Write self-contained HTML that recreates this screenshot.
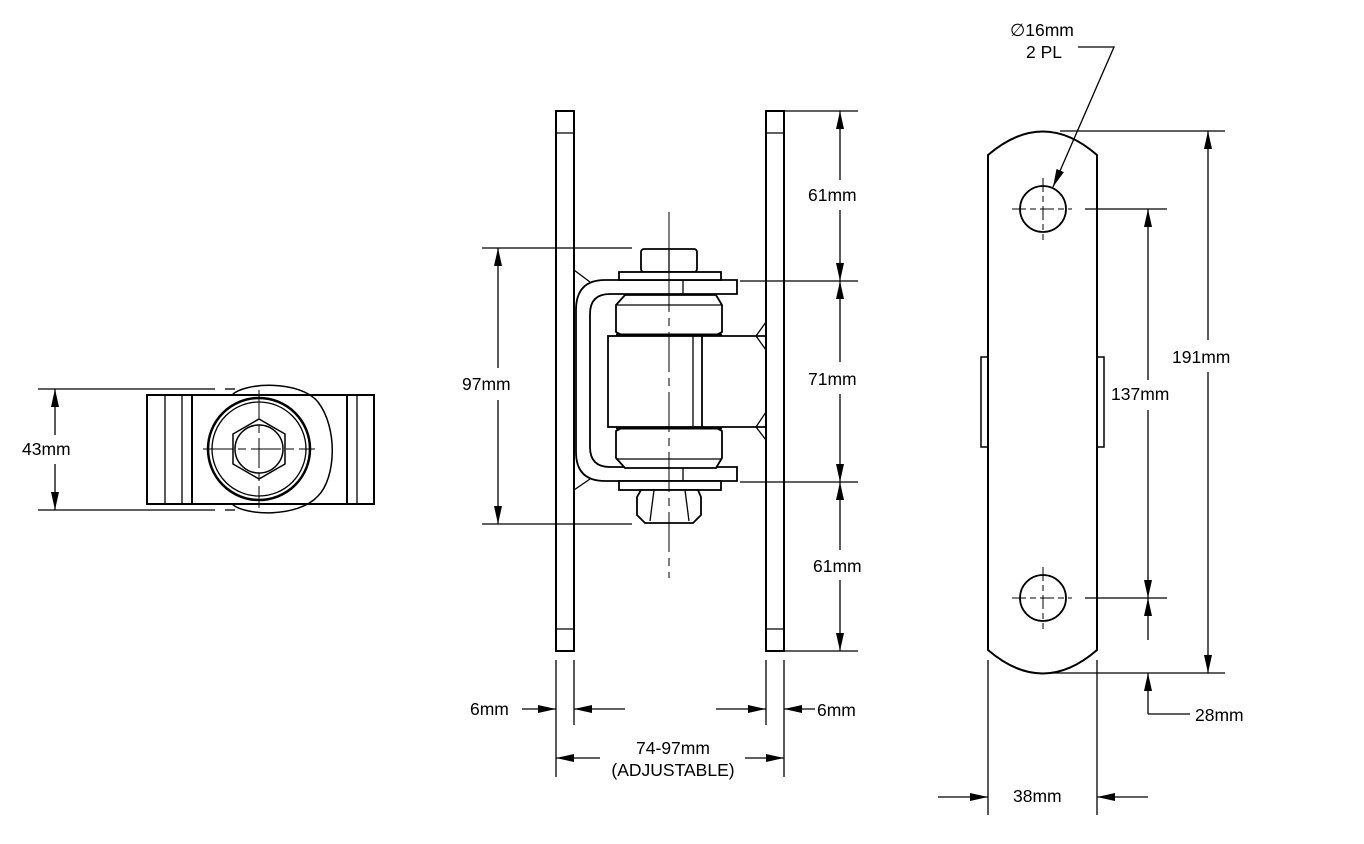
<!DOCTYPE html>
<html><head><style>
html,body{margin:0;padding:0;background:#fff;}
svg{display:block;}
text{font-family:"Liberation Sans",sans-serif;font-size:17.5px;fill:#000;}
</style></head><body>
<svg width="1364" height="844" viewBox="0 0 1364 844" xmlns="http://www.w3.org/2000/svg">
<defs>
<marker id="a" viewBox="0 0 18 8" refX="18" refY="4" markerWidth="18" markerHeight="8" markerUnits="userSpaceOnUse" orient="auto-start-reverse"><path d="M0,0 L18,4 L0,8 z" fill="#000"/></marker>
</defs>
<g fill="none" stroke="#000" stroke-width="1.3">
<!-- LEFT VIEW -->
<line x1="38" y1="389" x2="215" y2="389"/><line x1="225" y1="389" x2="235" y2="389"/>
<line x1="38" y1="510" x2="215" y2="510"/><line x1="225" y1="510" x2="235" y2="510"/>
<line x1="55" y1="389" x2="55" y2="435" marker-start="url(#a)"/>
<line x1="55" y1="464" x2="55" y2="510" marker-end="url(#a)"/>
<path d="M232,395 C245,382 300,380 318,402 C338,428 336,478 318,496 C298,518 245,516 232,504" stroke-width="1.5"/>
<rect x="147" y="395" width="227" height="109" stroke-width="2"/>
<line x1="165" y1="395" x2="165" y2="504"/><line x1="182" y1="395" x2="182" y2="504"/><line x1="192" y1="395" x2="192" y2="504" stroke-width="2"/>
<line x1="347" y1="395" x2="347" y2="504" stroke-width="2"/><line x1="357" y1="395" x2="357" y2="504"/>
<circle cx="259" cy="449" r="51" stroke-width="2.5"/>
<circle cx="259" cy="449" r="47" stroke-width="1.3"/>
<polygon points="259,419 285,434 285,464 259,479 233,464 233,434" stroke-width="1.5"/>
<circle cx="259" cy="449" r="24" stroke-width="1.5"/>
<g stroke-width="1"><line x1="203" y1="449" x2="315" y2="449" stroke-dasharray="30,5,8,5"/><line x1="259" y1="390" x2="259" y2="508" stroke-dasharray="30,5,8,5"/></g>

<!-- CENTER VIEW plates -->
<rect x="556" y="111" width="18" height="540" stroke-width="2"/>
<rect x="766" y="111" width="18" height="540" stroke-width="2"/>
<line x1="556" y1="133" x2="574" y2="133"/><line x1="556" y1="629" x2="574" y2="629"/>
<line x1="766" y1="133" x2="784" y2="133"/><line x1="766" y1="629" x2="784" y2="629"/>
<path d="M574,270 L590,282 M574,490 L590,479"/>
<path d="M766,322 L756,336 L766,350 M766,412 L756,427 L766,440"/>
<path d="M737,280 L605,280 Q576,280 576,310 L576,452 Q576,481 605,481 L737,481 L737,467 L610,467 Q590,467 590,447 L590,314 Q590,294 610,294 L737,294 Z" stroke-width="1.8" fill="#fff"/>
<line x1="683" y1="280" x2="683" y2="294"/><line x1="683" y1="467" x2="683" y2="481"/>
<rect x="641" y="249" width="56" height="23" rx="3" stroke-width="1.8" fill="#fff"/>
<line x1="669" y1="249" x2="669" y2="272"/>
<rect x="619" y="272" width="102" height="8" stroke-width="1.8" fill="#fff"/>
<path d="M625,295 L716,295 L722,305 L722,332 L716,335 L622,335 L616,332 L616,305 Z" stroke-width="1.8" fill="#fff"/>
<line x1="616" y1="305" x2="722" y2="305"/>
<rect x="608" y="336" width="94" height="91" stroke-width="1.8" fill="#fff"/>
<line x1="693" y1="336" x2="693" y2="427"/>
<path d="M702,336 L766,336 M702,427 L766,427" stroke-width="1.8"/>
<path d="M622,428 L716,428 L722,431 L722,458 L716,468 L625,468 L616,458 L616,431 Z" stroke-width="1.8" fill="#fff"/>
<line x1="616" y1="459" x2="722" y2="459"/>
<line x1="616" y1="335" x2="722" y2="335" stroke-width="3"/>
<line x1="616" y1="428" x2="722" y2="428" stroke-width="3"/>
<rect x="619" y="481" width="102" height="9" stroke-width="1.8" fill="#fff"/>
<path d="M641,490 L698,490 L701,497 L701,515 L693,523 L645,523 L637,515 L637,497 Z" stroke-width="1.8" fill="#fff"/>
<line x1="654" y1="490" x2="650" y2="521"/><line x1="685" y1="490" x2="689" y2="521"/>
<line x1="669" y1="212" x2="669" y2="578" stroke-width="1" stroke-dasharray="40,6,8,6"/>
<line x1="482" y1="248" x2="632" y2="248"/><line x1="482" y1="524" x2="632" y2="524"/>
<line x1="498" y1="248" x2="498" y2="368" marker-start="url(#a)"/><line x1="498" y1="400" x2="498" y2="524" marker-end="url(#a)"/>
<line x1="784" y1="111" x2="858" y2="111"/><line x1="740" y1="281" x2="858" y2="281"/>
<line x1="740" y1="482" x2="858" y2="482"/><line x1="784" y1="651" x2="858" y2="651"/>
<line x1="840" y1="111" x2="840" y2="180" marker-start="url(#a)"/><line x1="840" y1="210" x2="840" y2="281" marker-end="url(#a)"/>
<line x1="840" y1="281" x2="840" y2="362" marker-start="url(#a)"/><line x1="840" y1="394" x2="840" y2="482" marker-end="url(#a)"/>
<line x1="840" y1="482" x2="840" y2="550" marker-start="url(#a)"/><line x1="840" y1="580" x2="840" y2="651" marker-end="url(#a)"/>
<line x1="556" y1="660" x2="556" y2="777"/><line x1="574" y1="660" x2="574" y2="725"/>
<line x1="766" y1="660" x2="766" y2="725"/><line x1="784" y1="660" x2="784" y2="777"/>
<line x1="522" y1="709" x2="556" y2="709" marker-end="url(#a)"/><line x1="625" y1="709" x2="574" y2="709" marker-end="url(#a)"/>
<line x1="716" y1="709" x2="766" y2="709" marker-end="url(#a)"/><line x1="815" y1="709" x2="784" y2="709" marker-end="url(#a)"/>
<line x1="556" y1="758" x2="600" y2="758" marker-start="url(#a)"/><line x1="745" y1="758" x2="784" y2="758" marker-end="url(#a)"/>

<!-- RIGHT VIEW -->
<path d="M988,155 Q1043,108 1097,155 L1097,650 Q1043,697 988,650 Z" stroke-width="2"/>
<rect x="981" y="357" width="7" height="90" stroke-width="1.5"/>
<rect x="1097" y="357" width="7" height="90" stroke-width="1.5"/>
<circle cx="1043" cy="209" r="23" stroke-width="1.8"/>
<circle cx="1043" cy="598" r="23" stroke-width="1.8"/>
<g stroke-width="1" stroke-dasharray="14,4,6,4">
<line x1="1012" y1="209" x2="1072" y2="209"/><line x1="1043" y1="178" x2="1043" y2="240"/>
<line x1="1012" y1="598" x2="1072" y2="598"/><line x1="1043" y1="567" x2="1043" y2="629"/>
</g>
<line x1="1085" y1="209" x2="1167" y2="209"/><line x1="1085" y1="598" x2="1167" y2="598"/>
<line x1="1060" y1="131" x2="1225" y2="131"/><line x1="1050" y1="673" x2="1225" y2="673"/>
<line x1="1208" y1="131" x2="1208" y2="340" marker-start="url(#a)"/><line x1="1208" y1="372" x2="1208" y2="673" marker-end="url(#a)"/>
<line x1="1148" y1="209" x2="1148" y2="380" marker-start="url(#a)"/><line x1="1148" y1="410" x2="1148" y2="598" marker-end="url(#a)"/>
<line x1="1148" y1="598" x2="1148" y2="640" marker-start="url(#a)"/>
<line x1="1148" y1="673" x2="1148" y2="714" marker-start="url(#a)"/><line x1="1148" y1="714" x2="1190" y2="714"/>
<line x1="988" y1="660" x2="988" y2="815"/><line x1="1097" y1="660" x2="1097" y2="815"/>
<line x1="938" y1="797" x2="988" y2="797" marker-end="url(#a)"/><line x1="1148" y1="797" x2="1097" y2="797" marker-end="url(#a)"/>
<path d="M1078,47 L1114,47 L1053,187" marker-end="url(#a)"/>
</g>
<text x="22" y="455">43mm</text>
<text x="462" y="390">97mm</text>
<text x="808" y="201">61mm</text>
<text x="808" y="385">71mm</text>
<text x="813" y="572">61mm</text>
<text x="470" y="715">6mm</text>
<text x="817" y="716">6mm</text>
<text x="673" y="754" text-anchor="middle">74-97mm</text>
<text x="673" y="776" text-anchor="middle">(ADJUSTABLE)</text>
<text x="1010" y="36">∅16mm</text>
<text x="1026" y="58">2 PL</text>
<text x="1172" y="363">191mm</text>
<text x="1111" y="400">137mm</text>
<text x="1195" y="721">28mm</text>
<text x="1013" y="802">38mm</text>
</svg>
</body></html>
